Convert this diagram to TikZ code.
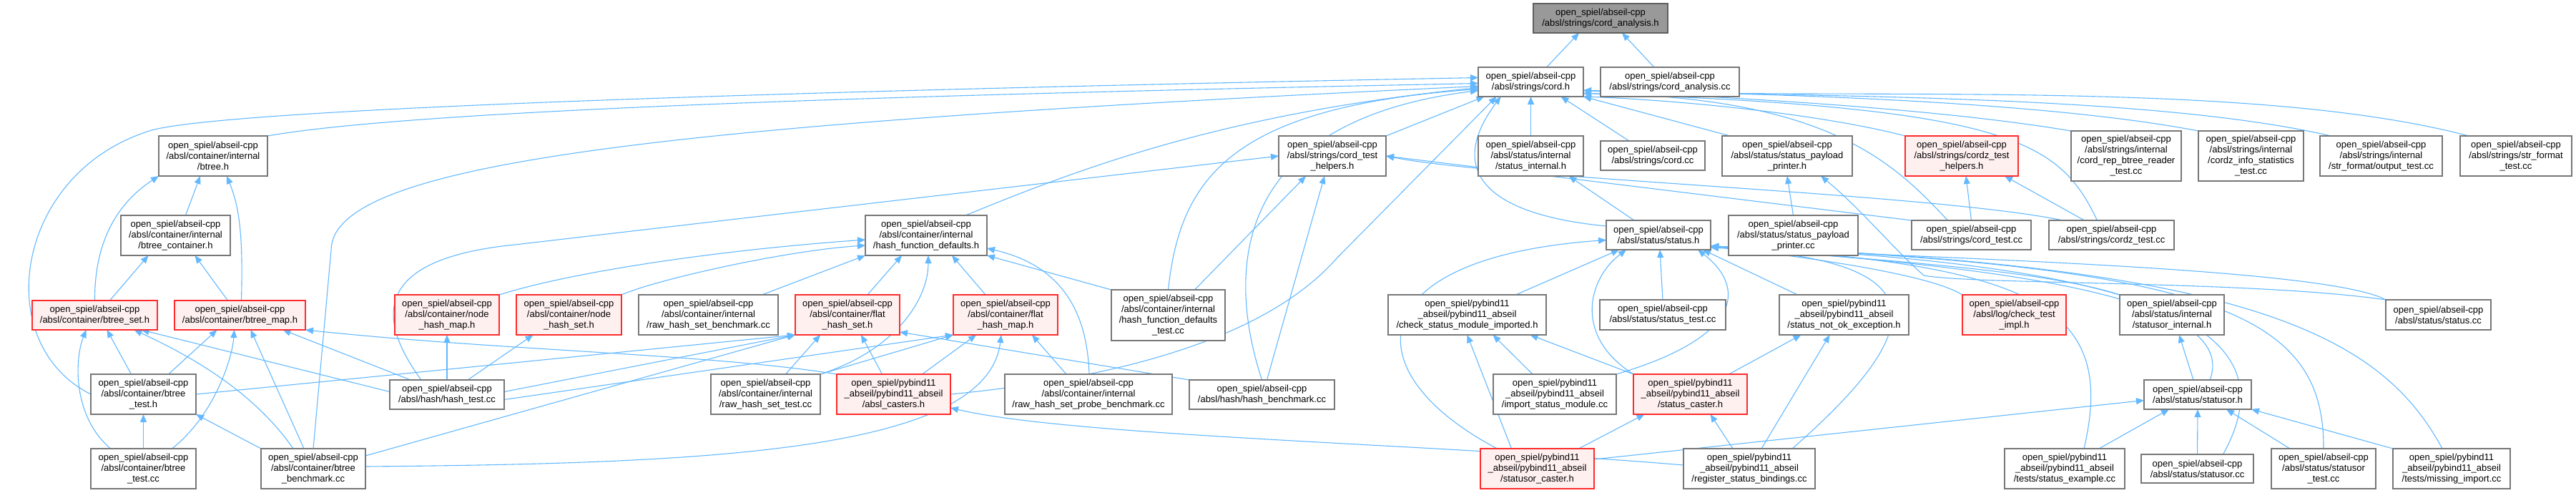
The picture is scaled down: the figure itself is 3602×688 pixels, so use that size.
\documentclass[tikz,border=0pt]{standalone}
\usepackage{fontspec}
\setmainfont{Liberation Sans}
\usepackage{tikz}
\usepackage{xcolor}
\definecolor{graphEdge}{HTML}{63B8FF}
\definecolor{graphBorder}{HTML}{777777}
\definecolor{graphHot}{HTML}{FFF0F0}
\definecolor{graphHotBorder}{HTML}{FF2B2B}
\definecolor{graphRoot}{HTML}{999999}
\usetikzlibrary{arrows.meta,backgrounds}

\begin{document}
\begin{tikzpicture}[x=1pt,y=-1pt,
  filebox/.style={draw=graphBorder, fill=white, line width=1.3pt, inner sep=0pt, outer sep=0pt,
    align=center, font=\fontsize{13}{15}\selectfont},
  hotbox/.style={filebox, draw=graphHotBorder, fill=graphHot},
  rootbox/.style={filebox, draw=graphBorder!80!black, fill=graphRoot},
  dep/.style={draw=graphEdge, line width=1.1pt, -{Triangle[length=11pt,width=9pt]}}]
  \useasboundingbox (0,0) rectangle (3602,688);

  % top rows
  \node[rootbox, minimum width=188, minimum height=41] (root) at (2238,25.5) {open\_spiel/abseil-cpp\\/absl/strings/cord\_analysis.h};
  \node[filebox, minimum width=147, minimum height=41] (cord_h) at (2140.5,114.5) {open\_spiel/abseil-cpp\\/absl/strings/cord.h};
  \node[filebox, minimum width=194, minimum height=41] (cord_analysis_cc) at (2335,114.5) {open\_spiel/abseil-cpp\\/absl/strings/cord\_analysis.cc};

  \node[filebox, minimum width=152, minimum height=56] (btree_h) at (298,218) {open\_spiel/abseil-cpp\\/absl/container/internal\\/btree.h};
  \node[filebox, minimum width=150, minimum height=56] (cord_test_helpers) at (1863,218) {open\_spiel/abseil-cpp\\/absl/strings/cord\_test\\\_helpers.h};
  \node[filebox, minimum width=147, minimum height=56] (status_internal) at (2140.5,218) {open\_spiel/abseil-cpp\\/absl/status/internal\\/status\_internal.h};
  \node[filebox, minimum width=146, minimum height=41] (cord_cc) at (2311,217.5) {open\_spiel/abseil-cpp\\/absl/strings/cord.cc};
  \node[filebox, minimum width=182, minimum height=56] (payload_printer_h) at (2499,218) {open\_spiel/abseil-cpp\\/absl/status/status\_payload\\\_printer.h};
  \node[hotbox, minimum width=158, minimum height=56] (cordz_test_helpers) at (2743,218) {open\_spiel/abseil-cpp\\/absl/strings/cordz\_test\\\_helpers.h};
  \node[filebox, minimum width=154, minimum height=70] (btree_reader_test) at (2973,218) {open\_spiel/abseil-cpp\\/absl/strings/internal\\/cord\_rep\_btree\_reader\\\_test.cc};
  \node[filebox, minimum width=147, minimum height=70] (info_statistics_test) at (3147.5,218) {open\_spiel/abseil-cpp\\/absl/strings/internal\\/cordz\_info\_statistics\\\_test.cc};
  \node[filebox, minimum width=171, minimum height=56] (output_test) at (3329.5,218) {open\_spiel/abseil-cpp\\/absl/strings/internal\\/str\_format/output\_test.cc};
  \node[filebox, minimum width=156, minimum height=56] (str_format_test) at (3518,218) {open\_spiel/abseil-cpp\\/absl/strings/str\_format\\\_test.cc};

  \node[filebox, minimum width=153, minimum height=56] (btree_container) at (245.5,329) {open\_spiel/abseil-cpp\\/absl/container/internal\\/btree\_container.h};
  \node[filebox, minimum width=170, minimum height=56] (hash_defaults) at (1295,329) {open\_spiel/abseil-cpp\\/absl/container/internal\\/hash\_function\_defaults.h};
  \node[filebox, minimum width=146, minimum height=41] (status_h) at (2319,328.5) {open\_spiel/abseil-cpp\\/absl/status/status.h};
  \node[filebox, minimum width=181, minimum height=56] (payload_printer_cc) at (2507.5,329) {open\_spiel/abseil-cpp\\/absl/status/status\_payload\\\_printer.cc};
  \node[filebox, minimum width=167, minimum height=41] (cord_test) at (2756.5,328.5) {open\_spiel/abseil-cpp\\/absl/strings/cord\_test.cc};
  \node[filebox, minimum width=175, minimum height=41] (cordz_test) at (2952.5,328.5) {open\_spiel/abseil-cpp\\/absl/strings/cordz\_test.cc};

  % middle row
  \node[hotbox, minimum width=175, minimum height=41] (btree_set) at (132.5,440.5) {open\_spiel/abseil-cpp\\/absl/container/btree\_set.h};
  \node[hotbox, minimum width=183, minimum height=41] (btree_map) at (335.5,440.5) {open\_spiel/abseil-cpp\\/absl/container/btree\_map.h};
  \node[hotbox, minimum width=146, minimum height=56] (node_hash_map) at (625,440) {open\_spiel/abseil-cpp\\/absl/container/node\\\_hash\_map.h};
  \node[hotbox, minimum width=147, minimum height=56] (node_hash_set) at (795.5,440) {open\_spiel/abseil-cpp\\/absl/container/node\\\_hash\_set.h};
  \node[filebox, minimum width=195, minimum height=56] (raw_set_benchmark) at (990.5,440) {open\_spiel/abseil-cpp\\/absl/container/internal\\/raw\_hash\_set\_benchmark.cc};
  \node[hotbox, minimum width=146, minimum height=56] (flat_hash_set) at (1185,440) {open\_spiel/abseil-cpp\\/absl/container/flat\\\_hash\_set.h};
  \node[hotbox, minimum width=146, minimum height=56] (flat_hash_map) at (1406,440) {open\_spiel/abseil-cpp\\/absl/container/flat\\\_hash\_map.h};
  \node[filebox, minimum width=159, minimum height=71] (hash_defaults_test) at (1633.5,440.5) {open\_spiel/abseil-cpp\\/absl/container/internal\\/hash\_function\_defaults\\\_test.cc};
  \node[filebox, minimum width=221, minimum height=56] (module_imported) at (2051.5,440) {open\_spiel/pybind11\\\_abseil/pybind11\_abseil\\/check\_status\_module\_imported.h};
  \node[filebox, minimum width=176, minimum height=42] (status_test) at (2325,440) {open\_spiel/abseil-cpp\\/absl/status/status\_test.cc};
  \node[filebox, minimum width=181, minimum height=56] (not_ok_exception) at (2578.5,440) {open\_spiel/pybind11\\\_abseil/pybind11\_abseil\\/status\_not\_ok\_exception.h};
  \node[hotbox, minimum width=145, minimum height=56] (check_test_impl) at (2816.5,440) {open\_spiel/abseil-cpp\\/absl/log/check\_test\\\_impl.h};
  \node[filebox, minimum width=146, minimum height=56] (statusor_internal) at (3037,440) {open\_spiel/abseil-cpp\\/absl/status/internal\\/statusor\_internal.h};
  \node[filebox, minimum width=147, minimum height=42] (status_cc) at (3409.5,440) {open\_spiel/abseil-cpp\\/absl/status/status.cc};

  \node[filebox, minimum width=147, minimum height=56] (btree_test_h) at (200.5,551) {open\_spiel/abseil-cpp\\/absl/container/btree\\\_test.h};
  \node[filebox, minimum width=160, minimum height=41] (hash_test) at (625,551.5) {open\_spiel/abseil-cpp\\/absl/hash/hash\_test.cc};
  \node[filebox, minimum width=153, minimum height=56] (raw_set_test) at (1070.5,551) {open\_spiel/abseil-cpp\\/absl/container/internal\\/raw\_hash\_set\_test.cc};
  \node[hotbox, minimum width=159, minimum height=56] (absl_casters) at (1249.5,551) {open\_spiel/pybind11\\\_abseil/pybind11\_abseil\\/absl\_casters.h};
  \node[filebox, minimum width=234, minimum height=56] (probe_benchmark) at (1522,551) {open\_spiel/abseil-cpp\\/absl/container/internal\\/raw\_hash\_set\_probe\_benchmark.cc};
  \node[filebox, minimum width=203, minimum height=41] (hash_benchmark) at (1764.5,551.5) {open\_spiel/abseil-cpp\\/absl/hash/hash\_benchmark.cc};
  \node[filebox, minimum width=172, minimum height=56] (import_module) at (2174,551) {open\_spiel/pybind11\\\_abseil/pybind11\_abseil\\/import\_status\_module.cc};
  \node[hotbox, minimum width=159, minimum height=56] (status_caster) at (2363.5,551) {open\_spiel/pybind11\\\_abseil/pybind11\_abseil\\/status\_caster.h};
  \node[filebox, minimum width=150, minimum height=41] (statusor_h) at (3073,551.5) {open\_spiel/abseil-cpp\\/absl/status/statusor.h};

  % bottom row
  \node[filebox, minimum width=147, minimum height=56] (btree_test_cc) at (200.5,655) {open\_spiel/abseil-cpp\\/absl/container/btree\\\_test.cc};
  \node[filebox, minimum width=146, minimum height=56] (btree_benchmark) at (438,655) {open\_spiel/abseil-cpp\\/absl/container/btree\\\_benchmark.cc};
  \node[hotbox, minimum width=159, minimum height=56] (statusor_caster) at (2149.5,655) {open\_spiel/pybind11\\\_abseil/pybind11\_abseil\\/statusor\_caster.h};
  \node[filebox, minimum width=184, minimum height=56] (register_bindings) at (2446,655) {open\_spiel/pybind11\\\_abseil/pybind11\_abseil\\/register\_status\_bindings.cc};
  \node[filebox, minimum width=168, minimum height=56] (status_example) at (2887,655) {open\_spiel/pybind11\\\_abseil/pybind11\_abseil\\/tests/status\_example.cc};
  \node[filebox, minimum width=157, minimum height=40] (statusor_cc) at (3072.5,655) {open\_spiel/abseil-cpp\\/absl/status/statusor.cc};
  \node[filebox, minimum width=146, minimum height=56] (statusor_test) at (3249,655) {open\_spiel/abseil-cpp\\/absl/status/statusor\\\_test.cc};
  \node[filebox, minimum width=164, minimum height=56] (missing_import) at (3428,655) {open\_spiel/pybind11\\\_abseil/pybind11\_abseil\\/tests/missing\_import.cc};

  \begin{scope}[on background layer]
  % includes of cord_analysis.h and cord.h
  \draw[dep] ([xshift=22]cord_h.north) -- ([xshift=-30]root.south);
  \draw[dep] ([xshift=-22]cord_analysis_cc.north) -- ([xshift=30]root.south);
  \draw[dep] (btree_h.north east) .. controls (600,150) and (1400,130) .. ([yshift=-2]cord_h.west);
  \draw[dep] (btree_test_h.west) .. controls (-15,480) and (20,240) .. (212,182) .. controls (330,150) and (1200,125) .. ([yshift=6]cord_h.west);
  \draw[dep] (btree_benchmark.north) -- (463,350) .. controls (463,230) and (900,175) .. ([yshift=-6]cord_h.west);
  \draw[dep] ([xshift=55]hash_defaults.north) .. controls (1500,240) and (1700,160) .. ([yshift=-8]cord_h.west);
  \draw[dep] (hash_defaults_test.north) .. controls (1650,250) and (1720,150) .. ([yshift=-10]cord_h.west);
  \draw[dep] (hash_benchmark.north) .. controls (1715,380) and (1720,170) .. ([yshift=-12]cord_h.west);
  \draw[dep] (absl_casters.east) .. controls (1650,520) and (1800,440) .. (1870,360) -- ([xshift=-48]cord_h.south);
  \draw[dep] (cord_test_helpers.north east) -- ([xshift=-65]cord_h.south);
  \draw[dep] ([yshift=-8]status_h.north west) .. controls (2080,300) and (2020,240) .. ([xshift=-42]cord_h.south);
  \draw[dep] (status_internal.north) -- (cord_h.south);
  \draw[dep] ([xshift=-33]cord_cc.north) -- ([xshift=42]cord_h.south);
  \draw[dep] ([xshift=-80]payload_printer_h.north) -- (cord_h.south east);
  \draw[dep] (cordz_test_helpers.north west) .. controls (2550,160) and (2350,140) .. (cord_h.south east);
  \draw[dep] (btree_reader_test.north west) .. controls (2700,150) and (2400,135) .. ([yshift=-12]cord_h.east);
  \draw[dep] (info_statistics_test.north west) .. controls (2850,140) and (2450,130) .. ([yshift=-12]cord_h.east);
  \draw[dep] ([xshift=-70]output_test.north) .. controls (3000,130) and (2500,135) .. ([yshift=-12]cord_h.east);
  \draw[dep] ([xshift=-66]str_format_test.north) .. controls (3150,110) and (2600,140) .. ([yshift=-12]cord_h.east);
  \draw[dep] ([xshift=-33]cord_test.north) .. controls (2650,230) and (2560,135) .. ([yshift=-16]cord_h.east);
  \draw[dep] ([xshift=-20]cordz_test.north) .. controls (2880,200) and (2820,150) .. ([yshift=-16]cord_h.east);

  % cord_test_helpers.h and cordz_test_helpers.h
  \draw[dep] ([xshift=-36]hash_test.north) .. controls (515,430) and (540,360) .. (720,342) -- (cord_test_helpers.west);
  \draw[dep] ([xshift=37]hash_defaults_test.north) -- ([xshift=-37]cord_test_helpers.south);
  \draw[dep] ([xshift=7]hash_benchmark.north) -- ([xshift=-11]cord_test_helpers.south);
  \draw[dep] (cord_test.north west) -- (cord_test_helpers.east);
  \draw[dep] ([xshift=-68]cordz_test.north) .. controls (2700,270) and (2100,250) .. (cord_test_helpers.east);
  \draw[dep] (cord_test.north) -- ([xshift=6]cordz_test_helpers.south);
  \draw[dep] ([xshift=-38]cordz_test.north) -- ([xshift=60]cordz_test_helpers.south);

  % status payload and internal
  \draw[dep] ([xshift=-34]status_h.north) -- ([xshift=53]status_internal.south);
  \draw[dep] (payload_printer_cc.north) -- (payload_printer_h.south);
  \draw[dep] (status_cc.north west) .. controls (3150,392) and (2760,398) .. (2690,385) .. controls (2650,350) and (2600,290) .. ([xshift=47]payload_printer_h.south);

  % includes of status.h
  \draw[dep] ([xshift=68]module_imported.north) -- ([xshift=-55]status_h.south);
  \draw[dep] ([xshift=-56]statusor_caster.north) .. controls (1890,520) and (1900,360) .. ([yshift=-7]status_h.west);
  \draw[dep] (status_caster.north west) .. controls (2200,470) and (2220,390) .. ([xshift=-45]status_h.south);
  \draw[dep] (status_test.north) -- ([xshift=2]status_h.south);
  \draw[dep] (import_module.north east) .. controls (2440,470) and (2440,400) .. ([xshift=55]status_h.south);
  \draw[dep] ([xshift=-65]not_ok_exception.north) -- ([xshift=62]status_h.south);
  \draw[dep] ([xshift=60]register_bindings.north) .. controls (2720,440) and (2690,362) .. ([yshift=3]status_h.south east);
  \draw[dep] ([xshift=17]statusor_h.north) .. controls (3140,400) and (2700,368) .. ([yshift=5]status_h.south east);
  \draw[dep] (statusor_internal.north west) .. controls (2850,375) and (2600,362) .. ([yshift=5]status_h.south east);
  \draw[dep] (check_test_impl.north west) .. controls (2700,385) and (2550,362) .. ([yshift=5]status_h.south east);
  \draw[dep] (status_cc.north west) .. controls (3250,372) and (2650,360) .. ([yshift=5]status_h.south east);
  \draw[dep] ([xshift=27]status_example.north) .. controls (2960,430) and (2850,370) .. ([yshift=5]status_h.south east);
  \draw[dep] ([xshift=36]statusor_cc.north) .. controls (3200,470) and (3050,370) .. ([yshift=5]status_h.south east);
  \draw[dep] (statusor_test.north) .. controls (3250,440) and (3100,372) .. ([yshift=5]status_h.south east);
  \draw[dep] ([xshift=-13]missing_import.north) .. controls (3330,470) and (3150,370) .. ([yshift=5]status_h.south east);

  % pybind11 headers
  \draw[dep] ([xshift=-36]statusor_caster.north) -- (module_imported.south);
  \draw[dep] ([xshift=-31]import_module.north) -- ([xshift=36]module_imported.south);
  \draw[dep] (status_caster.north west) -- ([xshift=88]module_imported.south);
  \draw[dep] ([xshift=54]status_caster.north) -- ([xshift=-60]not_ok_exception.south);
  \draw[dep] ([xshift=17]register_bindings.north) -- ([xshift=-20]not_ok_exception.south);
  \draw[dep] ([xshift=58]statusor_caster.north) -- ([xshift=-64]status_caster.south);
  \draw[dep] ([xshift=-23]register_bindings.north) -- ([xshift=28]status_caster.south);
  \draw[dep] ([yshift=5]register_bindings.west) .. controls (2000,620) and (1500,610) .. ([yshift=-19]absl_casters.east);

  % statusor.h
  \draw[dep] ([yshift=13]statusor_caster.east) -- ([yshift=-8]statusor_h.west);
  \draw[dep] ([xshift=48]status_example.north) -- ([xshift=-40]statusor_h.south);
  \draw[dep] (statusor_cc.north) -- (statusor_h.south);
  \draw[dep] ([xshift=-47]statusor_test.north) -- ([xshift=40]statusor_h.south);
  \draw[dep] (missing_import.north west) -- (statusor_h.south east);
  \draw[dep] ([xshift=-6]statusor_h.north) -- ([xshift=10]statusor_internal.south);

  % btree headers
  \draw[dep] ([xshift=14]btree_container.north) -- ([xshift=-18]btree_h.south);
  \draw[dep] (btree_set.north) .. controls (132,330) and (170,280) .. (btree_h.south west);
  \draw[dep] ([xshift=2]btree_map.north) .. controls (340,330) and (335,290) .. ([xshift=19]btree_h.south);
  \draw[dep] ([xshift=21]btree_set.north) -- ([xshift=-38]btree_container.south);
  \draw[dep] ([xshift=-17]btree_map.north) -- ([xshift=27]btree_container.south);
  \draw[dep] ([xshift=-17]btree_test_h.north) -- ([xshift=17]btree_set.south);
  \draw[dep] ([xshift=-46]btree_test_cc.north) .. controls (100,580) and (105,500) .. ([xshift=-12]btree_set.south);
  \draw[dep] ([xshift=-28]btree_benchmark.north) .. controls (350,540) and (250,490) .. ([xshift=55]btree_set.south);
  \draw[dep] ([yshift=4]hash_test.west) -- ([xshift=65]btree_set.south);
  \draw[dep] ([xshift=35]btree_test_h.north) -- ([xshift=-32]btree_map.south);
  \draw[dep] ([xshift=40]btree_test_cc.north) .. controls (300,580) and (325,500) .. ([xshift=-8]btree_map.south);
  \draw[dep] ([xshift=-13]btree_benchmark.north) -- ([xshift=15]btree_map.south);
  \draw[dep] ([xshift=-51]hash_test.north) -- ([xshift=60]btree_map.south);
  \draw[dep] (absl_casters.north west) .. controls (1000,495) and (700,490) .. (btree_map.south east);
  \draw[dep] (btree_test_cc.north) -- (btree_test_h.south);
  \draw[dep] (btree_benchmark.north west) -- (btree_test_h.south east);

  % hash containers
  \draw[dep] (hash_test.north) -- (node_hash_map.south);
  \draw[dep] ([xshift=29]hash_test.north) -- ([xshift=-50]node_hash_set.south);
  \draw[dep] (node_hash_map.north east) .. controls (800,380) and (1000,350) .. ([yshift=-6]hash_defaults.west);
  \draw[dep] (node_hash_set.north east) .. controls (920,390) and (1100,350) .. ([yshift=-14]hash_defaults.west);
  \draw[dep] ([xshift=75]raw_set_benchmark.north) -- (hash_defaults.south west);
  \draw[dep] ([xshift=28]flat_hash_set.north) -- ([xshift=-34]hash_defaults.south);
  \draw[dep] (raw_set_test.north east) .. controls (1250,490) and (1298,420) .. ([xshift=3]hash_defaults.south);
  \draw[dep] ([xshift=-28]flat_hash_map.north) -- ([xshift=36]hash_defaults.south);
  \draw[dep] ([xshift=1]probe_benchmark.north) .. controls (1520,430) and (1480,370) .. ([yshift=-18]hash_defaults.east);
  \draw[dep] (hash_defaults_test.north west) -- (hash_defaults.south east);
  \draw[dep] ([xshift=28]raw_set_test.north) -- ([xshift=-38]flat_hash_set.south);
  \draw[dep] ([xshift=-16]absl_casters.north) -- ([xshift=19]flat_hash_set.south);
  \draw[dep] (hash_benchmark.north west) -- ([yshift=-24]flat_hash_set.east);
  \draw[dep] (btree_test_h.east) -- (flat_hash_set.south west);
  \draw[dep] ([yshift=4]hash_test.east) -- (flat_hash_set.south west);
  \draw[dep] ([yshift=18]btree_benchmark.east) -- (flat_hash_set.south west);
  \draw[dep] (raw_set_test.north east) -- (flat_hash_map.south west);
  \draw[dep] ([xshift=40]absl_casters.north) -- ([xshift=-41]flat_hash_map.south);
  \draw[dep] ([xshift=-31]probe_benchmark.north) -- ([xshift=37]flat_hash_map.south);
  \draw[dep] ([yshift=-7]hash_test.east) -- (flat_hash_map.south west);
  \draw[dep] ([yshift=3]btree_benchmark.east) .. controls (1000,648) and (1380,630) .. ([xshift=-6]flat_hash_map.south);
  \end{scope}
\end{tikzpicture}
\end{document}
